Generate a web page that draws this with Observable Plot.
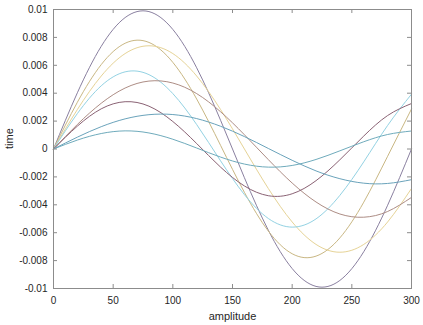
<!DOCTYPE html>
<html>
<head>
<meta charset="utf-8">
<script src="https://cdn.jsdelivr.net/npm/d3@7"></script>
<script src="https://cdn.jsdelivr.net/npm/@observablehq/plot@0.6"></script>
<style>
  html, body { margin: 0; padding: 0; background: #fff; }
</style>
</head>
<body>
<div id="chart"></div>
<script>
// x positions (amplitude)
const xs = [0, 20, 40, 60, 80, 100, 120, 140, 160, 180, 200, 220, 240, 260, 280, 300];

// series values (time)
const sPurple = [0, .00403, .00736, .00942, .00985, .00857, .00582, .00206, -.00206, -.00582, -.00857, -.00985, -.00942, -.00736, -.00403, 0];
const sTan    = [0, .00335, .00605, .00758, .00764, .00621, .00358, .00026, -.00311, -.00588, -.00751, -.00768, -.00637, -.00381, -.00052, .00287];
const sYellow = [0, .00283, .00523, .00684, .0074, .00684, .00523, .00283, 0, -.00283, -.00523, -.00684, -.0074, -.00684, -.00523, -.00283];
const sCyan   = [0, .00254, .00453, .00553, .00533, .00397, .00175, -.00085, -.00327, -.00498, -.0056, -.00501, -.00332, -.00092, .00169, .00393];
const sBrown  = [0, .00176, .00328, .00437, .00487, .00473, .00397, .00267, .00102, -.00076, -.00244, -.0038, -.00466, -.00489, -.00448, -.00347];
const sDarkRed= [0, .00164, .00288, .00339, .00307, .00197, .00039, -.0013, -.00265, -.00335, -.00321, -.00227, -.00077, .00093, .0024, .00326];
const sBlue   = [0, .00085, .0016, .00216, .00246, .00247, .00218, .00163, .00089, .00004, -.00081, -.00157, -.00213, -.00245, -.00247, -.0022];
const sTeal   = [0, .00064, .00111, .0013, .00115, .0007, .00007, -.00058, -.00108, -.0013, -.00118, -.00075, -.00013, .00052, .00104, .00129];

const seriesNames  = ["purple", "tan", "yellow", "cyan", "brown", "darkred", "blue", "teal"];
const seriesValues = [sPurple, sTan, sYellow, sCyan, sBrown, sDarkRed, sBlue, sTeal];
const seriesColors = ["#8a80a0", "#c9b783", "#e6d396", "#93d2e3", "#ad8d85", "#8a6274", "#6aa3bb", "#6fabbc"];

const xTicks = [0, 50, 100, 150, 200, 250, 300];
const yTicks = [-0.01, -0.008, -0.006, -0.004, -0.002, 0, 0.002, 0.004, 0.006, 0.008, 0.01];

const xLabel = "amplitude";
const yLabel = "time";

const fmtY = d => d === 0 ? "0" : String(+d.toFixed(3));

const lineMarks = seriesNames.map((name, i) =>
  Plot.line(xs.map((x, j) => ({x, y: seriesValues[i][j]})), {
    x: "x", y: "y", stroke: seriesColors[i], strokeWidth: 1, curve: "natural"
  })
);

const frameColor = "#8c8c8c";
const innerH = 325 - 9 - 37;
const innerW = 423 - 53 - 12;
const tk = 4;

const chart = Plot.plot({
  width: 423,
  height: 325,
  marginLeft: 53,
  marginRight: 12,
  marginTop: 9,
  marginBottom: 37,
  style: {fontFamily: "'Liberation Sans', Arial, sans-serif", fontSize: "10px", color: "#262626", background: "#fff"},
  x: {domain: [0, 300]},
  y: {domain: [-0.01, 0.01]},
  marks: [
    ...lineMarks,
    Plot.frame({stroke: frameColor}),
    Plot.tickX(xTicks, {x: d => d, insetTop: innerH - tk, stroke: frameColor}),
    Plot.tickX(xTicks, {x: d => d, insetBottom: innerH - tk, stroke: frameColor}),
    Plot.tickY(yTicks, {y: d => d, insetRight: innerW - tk, stroke: frameColor}),
    Plot.tickY(yTicks, {y: d => d, insetLeft: innerW - tk, stroke: frameColor}),
    Plot.axisX(xTicks, {tickSize: 0, tickPadding: 8, label: null, fontSize: 10}),
    Plot.axisY(yTicks, {tickSize: 0, tickPadding: 6, tickFormat: fmtY, label: null, fontSize: 10}),
    Plot.text([xLabel], {frameAnchor: "bottom", dy: 31, fontSize: 11, fill: "#262626"}),
    Plot.text([yLabel], {frameAnchor: "left", dx: -44, rotate: -90, fontSize: 11, fill: "#262626"})
  ]
});

document.getElementById("chart").appendChild(chart);
</script>
</body>
</html>
